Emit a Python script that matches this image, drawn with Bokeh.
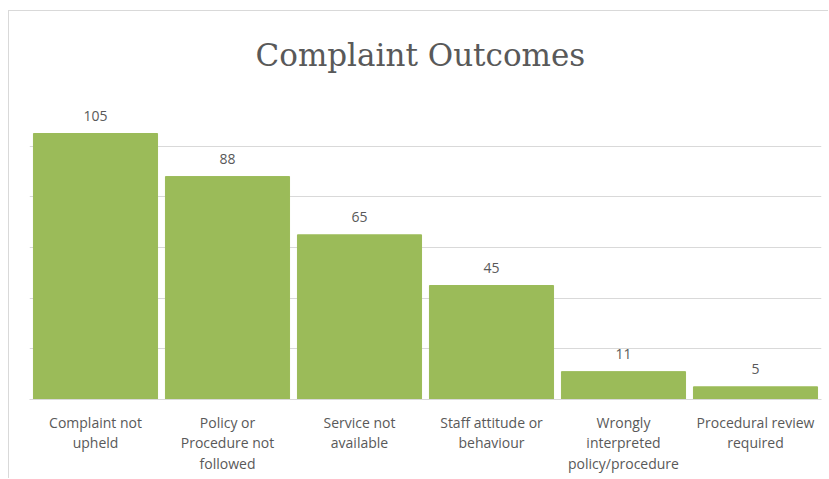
from bokeh.plotting import figure
from bokeh.models import ColumnDataSource, Range1d, FactorRange, SingleIntervalTicker, LabelSet, CategoricalAxis, Title
from bokeh.core.properties import value
from bokeh.embed import file_html
from bokeh.resources import INLINE

categories = ["Complaint not upheld", "Policy or Procedure not followed", "Service not available",
              "Staff attitude or behaviour", "Wrongly interpreted policy/procedure", "Procedural review required"]
tick_labels = ["Complaint not\nupheld", "Policy or\nProcedure not\nfollowed", "Service not\navailable",
               "Staff attitude or\nbehaviour", "Wrongly\ninterpreted\npolicy/procedure", "Procedural review\nrequired"]
counts = [105, 88, 65, 45, 11, 5]

src = ColumnDataSource(dict(cat=categories, n=counts, lab=[str(c) for c in counts]))

W, H = 820, 468
p = figure(x_range=FactorRange(*categories), y_range=Range1d(0, 120),
           width=W, height=H, output_backend="svg", toolbar_location=None,
           min_border_left=20, min_border_right=8, min_border_top=83, min_border_bottom=80)
p.styles = {"border-left": "1px solid #d9d9d9", "border-top": "1px solid #d9d9d9",
            "margin-top": "10px", "margin-left": "8px"}

p.vbar(x="cat", top="n", width=0.94, source=src, color="#9bbb59")
p.add_layout(LabelSet(x="cat", y="n", text="lab", source=src, text_align="center", text_baseline="alphabetic",
                      y_offset=13, text_font=value("Open Sans"), text_font_size="14px", text_color="#595959"))

p.title = Title(text="Complaint Outcomes", align="left", text_font="DejaVu Serif", offset=226,
                text_font_size="31px", text_font_style="normal", text_color="#595959", standoff=46)

p.outline_line_color = None
p.yaxis.visible = False
p.yaxis.ticker = SingleIntervalTicker(interval=20)
p.ygrid.ticker = SingleIntervalTicker(interval=20)
p.ygrid.grid_line_color = "#d9d9d9"
p.ygrid.grid_line_width = 1
p.xgrid.grid_line_color = None
p.xaxis.visible = False

# multi-line category labels: one stacked categorical axis per text line,
# each on its own factor range built from that line of every label
lines = [t.split("\n") for t in tick_labels]
standoffs = [7, -8, -7]
for i in range(3):
    facs = [(l[i] if len(l) > i else " " * (k + 1)) for k, l in enumerate(lines)]
    name = f"line{i}"
    p.extra_x_ranges[name] = FactorRange(*facs)
    ax = CategoricalAxis(x_range_name=name)
    p.add_layout(ax, "below")
    ax.axis_line_color = "#d9d9d9" if i == 0 else None
    ax.major_tick_line_color = None
    ax.minor_tick_line_color = None
    ax.major_label_text_font = "Open Sans"
    ax.major_label_text_font_size = "14px"
    ax.major_label_text_color = "#595959"
    ax.major_label_standoff = standoffs[i]

open("out.html", "w").write(file_html(p, INLINE))
